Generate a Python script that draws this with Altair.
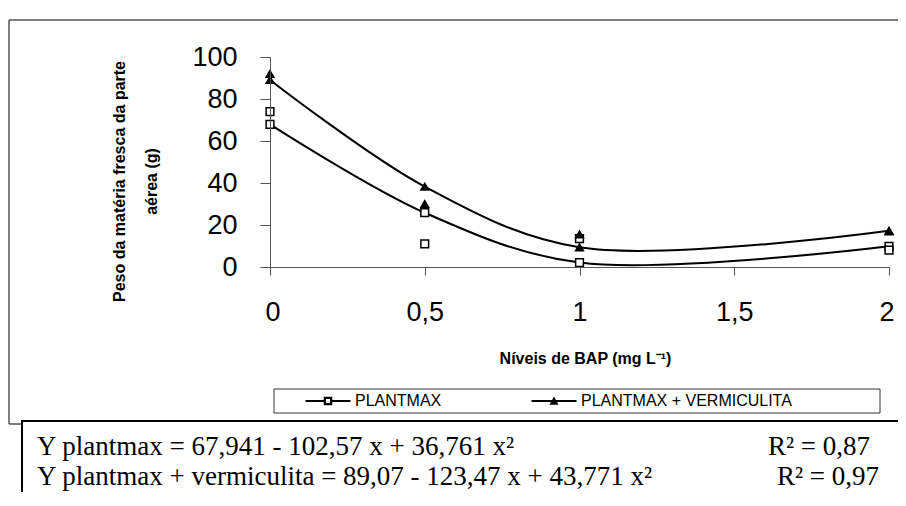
import altair as alt
import pandas as pd

# ---- data ----
niveis = [0, 0.5, 1, 2]
series = ["PLANTMAX", "PLANTMAX + VERMICULITA"]
ajuste_plantmax = [67.94, 25.85, 2.13, 9.84]
ajuste_vermiculita = [89.07, 38.28, 9.37, 17.21]
obs_plantmax = [74, 11, 13.5, 8]
obs_vermiculita = [92, 30, 15.5, 17]
x_ticks = [0, 0.5, 1, 1.5, 2]
y_ticks = [0, 20, 40, 60, 80, 100]
y_title = ["Peso da matéria fresca da parte", "aérea (g)"]
x_title = "Níveis de BAP (mg L⁻¹)"
eq_lines = ["Y plantmax = 67,941 - 102,57 x + 36,761 x²",
            "Y plantmax + vermiculita = 89,07 - 123,47 x + 43,771 x²"]
r2_lines = ["R² = 0,87", "R² = 0,97"]

fit = pd.DataFrame({
    "x": niveis * 2,
    "y": ajuste_plantmax + ajuste_vermiculita,
    "serie": [series[0]] * 4 + [series[1]] * 4,
})
obs = pd.DataFrame({
    "x": niveis * 2,
    "y": obs_plantmax + obs_vermiculita,
    "serie": [series[0]] * 4 + [series[1]] * 4,
})
pts = pd.concat([fit, obs], ignore_index=True)
one = pd.DataFrame({"k": [0]})

AX = "#555555"
X = alt.X("x:Q", scale=alt.Scale(domain=[0, 2], nice=False, zero=False),
          axis=alt.Axis(values=x_ticks, format="~g",
                        labelExpr="replace(datum.label, '.', ',')",
                        labelFlush=True, labelFlushOffset=5,
                        grid=False, tickSize=8, domainColor=AX, tickColor=AX, zindex=1,
                        labelFont="Liberation Sans", labelFontSize=27, labelColor="black",
                        labelPadding=24, title=x_title, titleFont="Liberation Sans",
                        titleFontSize=16, titleFontWeight="bold", titleColor="black",
                        titleX=315, titleY=91, titleAlign="center", titleBaseline="middle"))
Y = alt.Y("y:Q", scale=alt.Scale(domain=[0, 100], nice=False),
          axis=alt.Axis(values=y_ticks, grid=False, tickSize=10, domainColor=AX, tickColor=AX,
                        zindex=1, labelFlush=False,
                        labelFont="Liberation Sans", labelFontSize=27, labelColor="black",
                        labelPadding=23, title=y_title, titleFont="Liberation Sans",
                        titleFontSize=16, titleFontWeight="bold", titleColor="black",
                        titleAngle=270, titleX=-151, titleY=124, titleAlign="center",
                        titleBaseline="middle", titleLineHeight=32))

# ---- decorations (frames) ----
outer = alt.Chart(one).mark_rect(fill="white", fillOpacity=0, stroke="black", strokeWidth=1).encode(
    x=alt.value(-261), x2=alt.value(700), y=alt.value(-37), y2=alt.value(367))
eqbox = alt.Chart(one).mark_rect(fill="white", stroke="black", strokeWidth=2).encode(
    x=alt.value(-248), x2=alt.value(700), y=alt.value(364), y2=alt.value(520))
legbox = alt.Chart(one).mark_rect(fill="white", stroke="#333333", strokeWidth=1).encode(
    x=alt.value(4), x2=alt.value(610), y=alt.value(332), y2=alt.value(356))

# ---- data marks ----
lines = alt.Chart(fit).mark_line(interpolate="catmull-rom", color="black", strokeWidth=2).encode(
    x=X, y=Y, detail="serie:N")
markers = alt.Chart(pts).mark_point(filled=True, stroke="black", strokeWidth=1.5, size=60, opacity=1).encode(
    x=X, y=Y,
    shape=alt.Shape("serie:N", scale=alt.Scale(domain=series, range=["square", "triangle-up"]), legend=None),
    fill=alt.Fill("serie:N", scale=alt.Scale(domain=series, range=["white", "black"]), legend=None))

# legend symbols: line segment + marker, drawn as filled shapes
sq_path = ("M-4.5,-0.2H-0.8V0.2H-4.5Z"
           "M0.8,-0.2H4.5V0.2H0.8Z"
           "M-0.85,-0.85H0.85V0.85H-0.85Z"
           "M-0.4,-0.4V0.4H0.4V-0.4Z")
tri_path = "M-4.5,-0.2H4.5V0.2H-4.5Z" "M-0.9,0.75L0,-0.9L0.9,0.75Z"
legend_layer = alt.Chart(fit).mark_point(filled=True, color="black", opacity=0).encode(
    x=X, y=Y,
    shape=alt.Shape("serie:N", scale=alt.Scale(domain=series, range=[sq_path, tri_path]),
                    legend=alt.Legend(orient="none", legendX=33, legendY=336, direction="horizontal",
                                      title=None, symbolSize=100, symbolFillColor="black",
                                      symbolStrokeWidth=0,
                                      symbolOpacity=1, symbolOffset=17, labelOffset=19,
                                      labelFont="Liberation Sans", labelFontSize=16, labelLimit=500,
                                      labelColor="black", columnPadding=87, padding=0)))

# ---- equations ----
def txt(s, x, y, align="left"):
    return alt.Chart(one).mark_text(text=s, font="Liberation Serif", fontSize=27, color="black",
                                    align=align, baseline="alphabetic").encode(
        x=alt.value(x), y=alt.value(y))

texts = [txt(eq_lines[0], -233, 398), txt(eq_lines[1], -233, 428),
         txt(r2_lines[0], 600, 398, "right"), txt(r2_lines[1], 609, 428, "right")]

chart = alt.layer(outer, eqbox, legbox, lines, markers, legend_layer, *texts).resolve_scale(
    shape="independent", fill="independent").properties(
    width=619, height=210,
    autosize=alt.AutoSizeParams(type="none"),
    padding={"left": 262, "top": 49, "right": 9, "bottom": 225},
).configure_view(stroke=None)

chart.save("out.html", embed_options={"renderer": "svg", "actions": False})
